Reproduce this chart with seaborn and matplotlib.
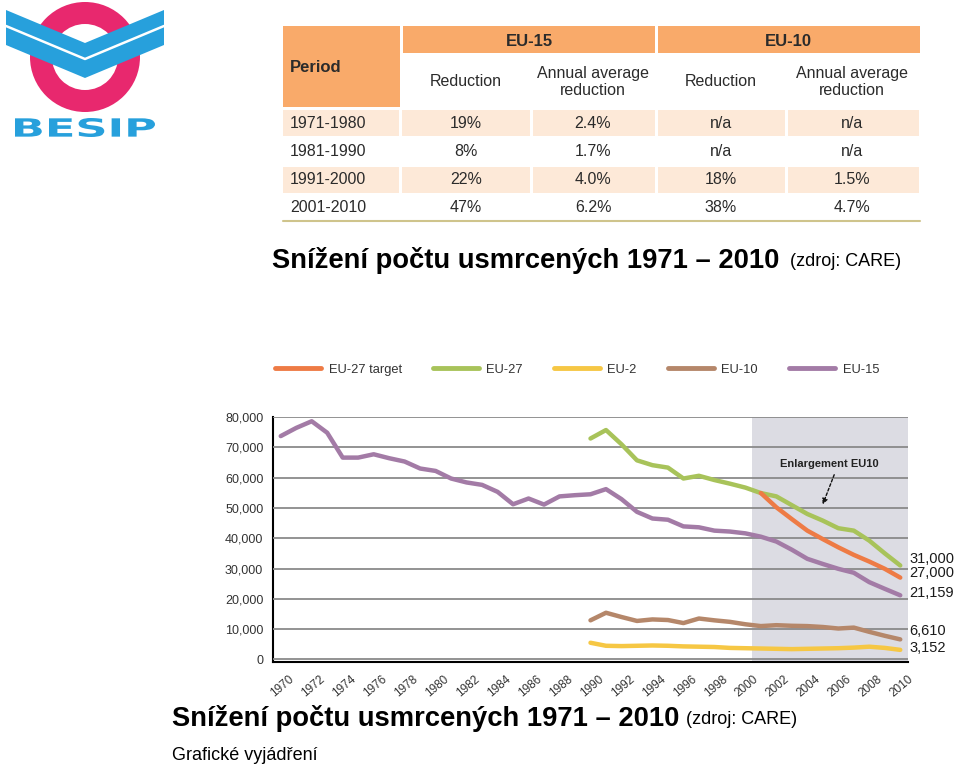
import numpy as np
import pandas as pd
import matplotlib.pyplot as plt
import seaborn as sns
from matplotlib.patches import Rectangle, Circle, Polygon, PathPatch
from matplotlib.lines import Line2D
from matplotlib.textpath import TextPath
from matplotlib.font_manager import FontProperties
from matplotlib.transforms import Affine2D

# Table data (CARE)
periods = ['1971-1980', '1981-1990', '1991-2000', '2001-2010']
eu15_reduction = ['19%', '8%', '22%', '47%']
eu15_annual = ['2.4%', '1.7%', '4.0%', '6.2%']
eu10_reduction = ['n/a', 'n/a', '18%', '38%']
eu10_annual = ['n/a', 'n/a', '1.5%', '4.7%']

# Chart data - road deaths
years_eu15 = list(range(1970, 2011))
eu15 = [73700, 76400, 78600, 74800, 66600, 66600, 67700, 66400, 65300, 63000,
        62200, 59700, 58400, 57600, 55300, 51200, 53100, 51100, 53800, 54200,
        54500, 56200, 52900, 48700, 46500, 46100, 43900, 43600, 42500, 42200,
        41600, 40500, 38900, 36200, 33200, 31500, 29900, 28600, 25500, 23300, 21159]
years_new = list(range(1990, 2011))
eu27 = [72900, 75700, 71000, 65700, 64100, 63300, 59700, 60600, 59200, 58000,
        56700, 54900, 53800, 50900, 48000, 45800, 43300, 42500, 39200, 35000, 31000]
eu10 = [12900, 15400, 14000, 12700, 13200, 13000, 12000, 13500, 12900, 12400,
        11600, 11000, 11300, 11100, 11000, 10700, 10200, 10500, 9100, 7800, 6610]
eu2 = [5500, 4500, 4400, 4500, 4600, 4500, 4300, 4200, 4100, 3800,
       3700, 3600, 3500, 3400, 3500, 3600, 3700, 3900, 4200, 3800, 3152]
years_target = list(range(2001, 2011))
eu27_target = [54900, 50200, 46300, 42500, 39700, 37000, 34500, 32300, 29900, 27000]

legend_order = ['EU-27 target', 'EU-27', 'EU-2', 'EU-10', 'EU-15']
draw_order = ['EU-2', 'EU-10', 'EU-15', 'EU-27', 'EU-27 target']
palette = {'EU-27 target': '#ee7b45', 'EU-27': '#a8c35a', 'EU-2': '#f6c744',
           'EU-10': '#b5876a', 'EU-15': '#a37ba6'}

df = pd.concat([
    pd.DataFrame({'year': years_new, 'deaths': eu2, 'series': 'EU-2'}),
    pd.DataFrame({'year': years_new, 'deaths': eu10, 'series': 'EU-10'}),
    pd.DataFrame({'year': years_eu15, 'deaths': eu15, 'series': 'EU-15'}),
    pd.DataFrame({'year': years_new, 'deaths': eu27, 'series': 'EU-27'}),
    pd.DataFrame({'year': years_target, 'deaths': eu27_target, 'series': 'EU-27 target'}),
], ignore_index=True)

sns.set_style('white')
plt.rcParams['font.family'] = ['Liberation Sans', 'DejaVu Sans']

fig = plt.figure(figsize=(9.6, 7.68), dpi=100)

# background layer in pixel coords (logo, table, titles)
bg = fig.add_axes([0, 0, 1, 1])
bg.set_xlim(0, 960)
bg.set_ylim(768, 0)
bg.axis('off')

# --- BESIP logo ---
pink = '#e8286e'
blue = '#27a0dc'
bg.add_patch(Circle((85, 57), 55, color=pink, lw=0))
bg.add_patch(Circle((85, 57), 33, color='white', lw=0))
bg.add_patch(Polygon([(6, 10), (85, 43), (164, 10), (164, 45), (85, 78), (6, 45)],
                     closed=True, color=blue, lw=0))
bg.add_line(Line2D([6, 85, 164], [26, 59, 26], color='white', lw=1.8))
tp = TextPath((0, 0), 'BESIP', size=1, prop=FontProperties(family='DejaVu Sans', weight='bold'))
ext = tp.get_extents()
sx = 140 / ext.width
sy = 19 / ext.height
tr = Affine2D().translate(-ext.x0, -ext.y0).scale(sx, -sy).translate(15, 137)
bg.add_patch(PathPatch(tr.transform_path(tp), color=blue, lw=0))

# --- table ---
orange = '#f9aa6a'
beige = '#fde9d8'
txt = '#2b2b2b'
col_edges = [283, 400, 531, 656, 786, 920]
col_centers = [466, 593, 721, 852]
bg.add_patch(Rectangle((283, 26), 117, 81, color=orange, lw=0))
bg.add_patch(Rectangle((403, 26), 252, 27, color=orange, lw=0))
bg.add_patch(Rectangle((658, 26), 262, 27, color=orange, lw=0))
bg.text(290, 67, 'Period', fontsize=12, fontweight='bold', color=txt, ha='left', va='center')
bg.text(529, 41, 'EU-15', fontsize=12, fontweight='bold', color=txt, ha='center', va='center')
bg.text(788, 41, 'EU-10', fontsize=12, fontweight='bold', color=txt, ha='center', va='center')
subheads = ['Reduction', 'Annual average\nreduction', 'Reduction', 'Annual average\nreduction']
for cx, s in zip(col_centers, subheads):
    bg.text(cx, 82, s, fontsize=11.5, color=txt, ha='center', va='center', linespacing=1.2)

row_spans = [(110, 136), (139, 165), (167, 193), (195, 220)]
for i, (y0, y1) in enumerate(row_spans):
    if i % 2 == 0:
        for j in range(5):
            x0 = col_edges[j] + (0 if j == 0 else 2)
            x1 = col_edges[j + 1] - 1
            bg.add_patch(Rectangle((x0, y0), x1 - x0, y1 - y0, color=beige, lw=0))
    yc = (y0 + y1) / 2
    bg.text(290, yc, periods[i], fontsize=11.5, color=txt, ha='left', va='center')
    for cx, vals in zip(col_centers, [eu15_reduction, eu15_annual, eu10_reduction, eu10_annual]):
        bg.text(cx, yc, vals[i], fontsize=11.5, color=txt, ha='center', va='center')
bg.add_line(Line2D([283, 920], [221, 221], color='#cfc48c', lw=1.5))

# --- titles ---
title_bold = 'Snížení počtu usmrcených 1971 – 2010'
title_src = '(zdroj: CARE)'
bg.text(272, 260, title_bold, fontsize=19.7, fontweight='bold', color='black',
        ha='left', va='center')
bg.text(790, 262, title_src, fontsize=13, color='black', ha='left', va='center')
bg.text(172, 718, title_bold, fontsize=19.7, fontweight='bold', color='black',
        ha='left', va='center')
bg.text(686, 720, title_src, fontsize=13, color='black', ha='left', va='center')
bg.text(172, 755, 'Grafické vyjádření', fontsize=13, color='black', ha='left', va='center')

# --- chart ---
ax = fig.add_axes([273 / 960, 1 - 662 / 768, 635 / 960, 245 / 768])
ax.axvspan(2000.4, 2010.5, color='#dcdce3', lw=0, zorder=0)

sns.lineplot(data=df, x='year', y='deaths', hue='series', hue_order=draw_order,
             palette=palette, linewidth=3.2, ax=ax, legend=False, zorder=3)

ax.set_xlim(1969.5, 2010.5)
ax.set_ylim(-850, 80000)
ax.set_yticks(range(0, 80001, 10000))
ax.set_yticklabels([f'{v:,}' for v in range(0, 80001, 10000)])
ax.yaxis.grid(True, color='#8a8a8a', lw=1.3)
ax.xaxis.grid(False)
ax.set_axisbelow(False)
for gl in ax.get_ygridlines():
    gl.set_zorder(1)

all_years = list(range(1970, 2011))
ax.set_xticks([y + 0.5 for y in all_years])
ax.set_xticklabels([str(y) if y % 2 == 0 else '' for y in all_years],
                   rotation=40, ha='right', va='top', rotation_mode='anchor')
ax.tick_params(axis='x', direction='out', length=5, width=1.3, color='black',
               labelsize=8.5, labelcolor='#333333', pad=3)
ax.tick_params(axis='y', length=0, labelsize=9, labelcolor='#333333', pad=7)
ax.set_xlabel('')
ax.set_ylabel('')
for s in ['top', 'right']:
    ax.spines[s].set_visible(False)
for s in ['left', 'bottom']:
    ax.spines[s].set_color('black')
    ax.spines[s].set_linewidth(1.5)
ax.patch.set_alpha(0)

# end labels
end_values = [eu27[-1], eu27_target[-1], eu15[-1], eu10[-1], eu2[-1]]
end_offsets = [5, 3, 2, 6, 1]
for v, dy in zip(end_values, end_offsets):
    ax.annotate(f'{v:,}', xy=(2010.5, v), xytext=(1, dy), textcoords='offset points',
                fontsize=10.5, color='#1a1a1a', ha='left', va='center', annotation_clip=False)

# enlargement note
ax.annotate('', xy=(2004.93, 50300), xytext=(2005.8, 61800),
            arrowprops=dict(arrowstyle='-|>', linestyle=(0, (2, 1.5)), color='#111111',
                            lw=1, mutation_scale=8))
ax.text(2005.4, 64400, 'Enlargement EU10', fontsize=8, fontweight='bold',
        color='#222222', ha='center', va='center')

# legend
handles = [Line2D([0], [0], color=palette[k], lw=3.5) for k in legend_order]
fig.legend(handles, legend_order, loc='center', bbox_to_anchor=(577 / 960, 1 - 370 / 768),
           ncol=5, frameon=False, fontsize=9.3, handlelength=3.6, columnspacing=2.4,
           handletextpad=0.55, labelcolor='#333333')

fig.savefig('out.png', dpi=100)
